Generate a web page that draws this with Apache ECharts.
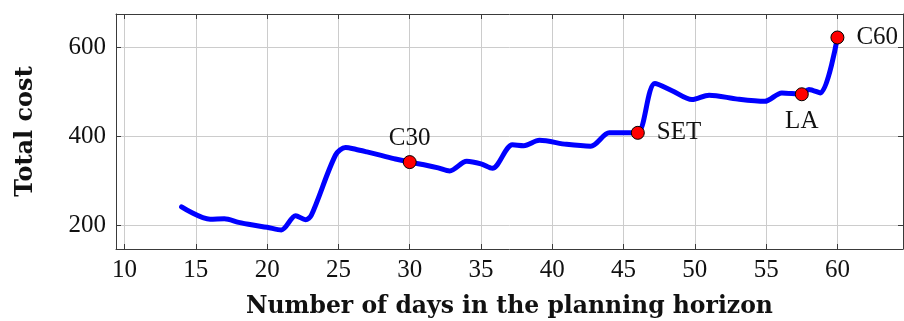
<!DOCTYPE html>
<html>
<head>
<meta charset="utf-8">
<script src="https://cdn.jsdelivr.net/npm/echarts@6/dist/echarts.min.js"></script>
<style>
  html, body { margin: 0; padding: 0; background: #fff; }
  #chart { width: 904px; height: 321px; }
</style>
</head>
<body>
<div id="chart"></div>
<script>
// Total cost against the length of the planning horizon
const days = [14, 16, 17, 18, 19, 20, 21, 22, 22.7, 23.1, 24.8, 25.5, 26.2, 27, 28, 29, 30, 31, 32, 32.8,
              34, 35, 35.8, 37.2, 38, 39.1, 41, 42.7, 44, 45.2, 46, 47.2, 48.4, 49.8, 51, 53, 54.9,
              56.1, 57.5, 58, 58.8, 60];
const cost = [241, 213, 214, 206, 200, 195, 189, 221, 212, 222, 358, 375, 371, 365, 357, 349, 342, 336, 329, 322,
              344, 338, 328, 381, 379, 391, 382, 378, 408, 408, 408, 519, 503, 483, 493, 484, 479,
              498, 495, 506, 498, 623];

// Highlighted solutions
const markerNames = ['C30', 'SET', 'LA', 'C60'];
const markerDays = [30, 46, 57.5, 60];
const markerCost = [342, 408, 495, 623];
const markerLabelPos = ['top', 'right', 'bottom', 'right'];
const labelGap = { top: 4, right: 12, bottom: 8 };

// Axis ticks
const xTicks = [10, 15, 20, 25, 30, 35, 40, 45, 50, 55, 60];
const yTicks = [200, 400, 600];

const serif = '"Liberation Serif", "DejaVu Serif", serif';
const boldSerif = '"DejaVu Serif", serif';
const textColor = '#111111';
const frameColor = '#3a3a3a';
const gridColor = '#cccccc';

function xAxisBase(pos) {
  return {
    type: 'value',
    position: pos,
    min: 9.4,
    max: 64.6,
    axisLine: { show: true, onZero: false, lineStyle: { color: frameColor, width: 1 } },
    axisTick: { show: true, inside: true, length: 5, customValues: xTicks, lineStyle: { color: frameColor } },
    axisLabel: { show: false, customValues: xTicks },
    splitLine: { show: false }
  };
}
function yAxisBase(pos) {
  return {
    type: 'value',
    position: pos,
    min: 146,
    max: 676,
    axisLine: { show: true, onZero: false, lineStyle: { color: frameColor, width: 1 } },
    axisTick: { show: true, inside: true, length: 5, customValues: yTicks, lineStyle: { color: frameColor } },
    axisLabel: { show: false, customValues: yTicks },
    splitLine: { show: false }
  };
}

const bottomX = xAxisBase('bottom');
bottomX.axisLabel = { show: true, customValues: xTicks, fontFamily: serif, fontSize: 25, color: textColor, margin: 9 };
bottomX.splitLine = { show: true, lineStyle: { color: gridColor, width: 1 } };
bottomX.name = 'Number of days in the planning horizon';
bottomX.nameLocation = 'middle';
bottomX.nameGap = 46;
bottomX.nameTextStyle = { fontFamily: boldSerif, fontWeight: 'bold', fontSize: 23.5, color: textColor };

const leftY = yAxisBase('left');
leftY.axisLabel = { show: true, customValues: yTicks, fontFamily: serif, fontSize: 25, color: textColor, margin: 10 };
leftY.splitLine = { show: true, lineStyle: { color: gridColor, width: 1 } };
leftY.name = 'Total cost';
leftY.nameLocation = 'middle';
leftY.nameGap = 78;
leftY.nameTextStyle = { fontFamily: boldSerif, fontWeight: 'bold', fontSize: 24, color: textColor };

const chart = echarts.init(document.getElementById('chart'), null, { renderer: 'canvas' });
chart.setOption({
  animation: false,
  backgroundColor: '#ffffff',
  grid: { left: 116, right: 1, top: 14, bottom: 72, containLabel: false, outerBoundsMode: 'none' },
  xAxis: [bottomX, xAxisBase('top')],
  yAxis: [leftY, yAxisBase('right')],
  series: [
    {
      type: 'line',
      xAxisIndex: 0,
      yAxisIndex: 0,
      data: days.map((d, i) => [d, cost[i]]),
      smooth: 0.3,
      showSymbol: false,
      symbol: 'none',
      lineStyle: { color: '#0000ff', width: 5, cap: 'round', join: 'round' },
      z: 3
    },
    {
      type: 'scatter',
      xAxisIndex: 0,
      yAxisIndex: 0,
      symbol: 'circle',
      symbolSize: 13,
      itemStyle: { color: '#ff0000', borderColor: '#000', borderWidth: 1, opacity: 1 },
      data: markerNames.map((n, i) => ({
        name: n,
        value: [markerDays[i], markerCost[i]],
        label: { position: markerLabelPos[i], distance: labelGap[markerLabelPos[i]] }
      })),
      label: {
        show: true,
        formatter: '{b}',
        fontFamily: serif,
        fontSize: 25,
        color: textColor,
        opacity: 1
      },
      emphasis: { disabled: true },
      z: 5
    }
  ]
});
</script>
</body>
</html>
